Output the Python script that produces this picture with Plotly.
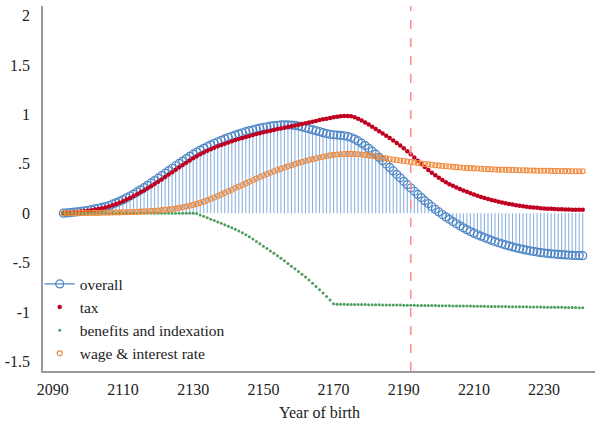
import plotly.graph_objects as go

years = list(range(2093, 2242))

overall = [
    0.000, 0.003, 0.006, 0.010, 0.014, 0.019, 0.024, 0.030, 0.036, 0.043, 0.050, 0.058,
    0.067, 0.078, 0.091, 0.105, 0.120, 0.137, 0.155, 0.174, 0.194, 0.215,
    0.237, 0.259, 0.282, 0.306, 0.330, 0.355, 0.380, 0.405, 0.430, 0.455,
    0.480, 0.504, 0.528, 0.552, 0.575, 0.597, 0.618, 0.638, 0.657, 0.675,
    0.692, 0.708, 0.723, 0.738, 0.752, 0.766, 0.779, 0.791, 0.803, 0.814,
    0.825, 0.835, 0.844, 0.853, 0.861, 0.868, 0.875, 0.881, 0.886, 0.890,
    0.893, 0.894, 0.894, 0.892, 0.888, 0.882, 0.874, 0.865, 0.855, 0.845,
    0.835, 0.825, 0.815, 0.806, 0.799, 0.794, 0.791, 0.788, 0.784, 0.777,
    0.766, 0.750, 0.731, 0.709, 0.684, 0.657, 0.628, 0.597, 0.565, 0.532,
    0.498, 0.463, 0.428, 0.393, 0.358, 0.323, 0.289, 0.255, 0.222, 0.190,
    0.158, 0.127, 0.097, 0.068, 0.040, 0.013, -0.013, -0.038, -0.062, -0.085,
    -0.107, -0.128, -0.148, -0.167, -0.185, -0.202, -0.218, -0.233, -0.247, -0.261,
    -0.274, -0.287, -0.299, -0.310, -0.321, -0.331, -0.341, -0.350, -0.359, -0.367,
    -0.374, -0.381, -0.387, -0.393, -0.398, -0.403, -0.407, -0.411, -0.414, -0.417,
    -0.420, -0.422, -0.424, -0.426, -0.428, -0.429, -0.430,
]

tax = [
    0.000, 0.002, 0.005, 0.008, 0.012, 0.016, 0.021, 0.026, 0.031, 0.037, 0.043, 0.050,
    0.057, 0.068, 0.080, 0.093, 0.107, 0.122, 0.138, 0.155, 0.173, 0.192,
    0.211, 0.231, 0.252, 0.273, 0.295, 0.318, 0.342, 0.366, 0.391, 0.415,
    0.440, 0.464, 0.488, 0.511, 0.534, 0.556, 0.577, 0.597, 0.615, 0.632,
    0.648, 0.663, 0.677, 0.690, 0.703, 0.716, 0.728, 0.740, 0.751, 0.762,
    0.772, 0.782, 0.792, 0.801, 0.810, 0.819, 0.827, 0.835, 0.843, 0.851,
    0.858, 0.866, 0.873, 0.880, 0.888, 0.896, 0.903, 0.911, 0.918, 0.926,
    0.934, 0.942, 0.950, 0.957, 0.964, 0.970, 0.976, 0.981, 0.984, 0.984,
    0.980, 0.970, 0.955, 0.937, 0.918, 0.898, 0.876, 0.853, 0.830, 0.807,
    0.784, 0.760, 0.736, 0.711, 0.686, 0.658, 0.628, 0.596, 0.563, 0.530,
    0.497, 0.467, 0.438, 0.410, 0.384, 0.359, 0.336, 0.314, 0.294, 0.277,
    0.261, 0.245, 0.230, 0.216, 0.202, 0.189, 0.177, 0.165, 0.154, 0.144,
    0.134, 0.125, 0.116, 0.108, 0.100, 0.093, 0.087, 0.081, 0.075, 0.070,
    0.065, 0.061, 0.057, 0.054, 0.051, 0.048, 0.046, 0.044, 0.042, 0.040,
    0.039, 0.038, 0.037, 0.036, 0.035, 0.035, 0.034,
]

benefits = [
    0.0, 0.0, 0.0, 0.0, 0.0, 0.0, 0.0, 0.0, 0.0, 0.0, 0.0, 0.0,
    0.0, 0.0, 0.0, 0.0, 0.0, 0.0, 0.0, 0.0, 0.0, 0.0,
    0.0, 0.0, 0.0, 0.0, 0.0, 0.0, 0.0, 0.0, 0.0, 0.0,
    0.0, 0.0, 0.0, 0.0, 0.0, 0.0, -0.004, -0.018, -0.032, -0.046,
    -0.060, -0.074, -0.088, -0.102, -0.116, -0.131, -0.146, -0.162, -0.179, -0.197,
    -0.217, -0.239, -0.262, -0.286, -0.310, -0.334, -0.358, -0.382, -0.406, -0.430,
    -0.456, -0.482, -0.509, -0.536, -0.563, -0.590, -0.617, -0.645, -0.676, -0.708,
    -0.741, -0.774, -0.808, -0.843, -0.879, -0.916, -0.921, -0.922, -0.922, -0.923,
    -0.923, -0.924, -0.924, -0.925, -0.925, -0.926, -0.926, -0.927, -0.927, -0.928,
    -0.928, -0.929, -0.929, -0.930, -0.930, -0.931, -0.931, -0.932, -0.932, -0.933,
    -0.933, -0.934, -0.934, -0.935, -0.935, -0.936, -0.936, -0.937, -0.937, -0.938,
    -0.938, -0.939, -0.939, -0.940, -0.940, -0.941, -0.941, -0.942, -0.942, -0.943,
    -0.943, -0.944, -0.944, -0.945, -0.945, -0.946, -0.946, -0.947, -0.947, -0.948,
    -0.948, -0.949, -0.949, -0.950, -0.950, -0.951, -0.951, -0.952, -0.952, -0.953,
    -0.953, -0.954, -0.954, -0.955, -0.955, -0.956, -0.956,
]

wage = [
    0.000, 0.000, 0.000, 0.000, 0.001, 0.001, 0.001, 0.002, 0.002, 0.003, 0.003, 0.004,
    0.004, 0.005, 0.006, 0.007, 0.008, 0.009, 0.010, 0.011, 0.012, 0.014,
    0.016, 0.018, 0.020, 0.022, 0.025, 0.028, 0.031, 0.035, 0.039, 0.043,
    0.048, 0.054, 0.060, 0.067, 0.075, 0.084, 0.094, 0.105, 0.117, 0.130,
    0.144, 0.159, 0.174, 0.190, 0.206, 0.222, 0.238, 0.254, 0.270, 0.286,
    0.302, 0.318, 0.334, 0.350, 0.366, 0.381, 0.396, 0.410, 0.424, 0.437,
    0.450, 0.462, 0.474, 0.486, 0.497, 0.508, 0.518, 0.528, 0.538, 0.547,
    0.556, 0.564, 0.572, 0.579, 0.585, 0.590, 0.594, 0.597, 0.599, 0.600,
    0.600, 0.599, 0.597, 0.594, 0.590, 0.585, 0.579, 0.573, 0.567, 0.561,
    0.555, 0.549, 0.543, 0.538, 0.533, 0.528, 0.523, 0.518, 0.513, 0.508,
    0.503, 0.498, 0.494, 0.490, 0.486, 0.482, 0.478, 0.475, 0.472, 0.469,
    0.466, 0.463, 0.460, 0.458, 0.456, 0.454, 0.452, 0.450, 0.448, 0.446,
    0.444, 0.442, 0.441, 0.440, 0.439, 0.438, 0.437, 0.436, 0.435, 0.434,
    0.433, 0.432, 0.431, 0.430, 0.430, 0.429, 0.429, 0.428, 0.428, 0.427,
    0.427, 0.426, 0.426, 0.425, 0.425, 0.425, 0.425,
]

x_ticks = [2090, 2110, 2130, 2150, 2170, 2190, 2210, 2230]
y_ticks = [-1.5, -1, -0.5, 0, 0.5, 1, 1.5, 2]
y_tick_labels = ["-1.5", "-1", "-.5", "0", ".5", "1", "1.5", "2"]
x_title = "Year of birth"
marker_year = 2192

FONT = "'Liberation Serif', 'DejaVu Serif', serif"
BLUE = "#4f86c6"
STEM = "#8db2e2"
RED = "#c00020"
GREEN = "#4e9e5e"
ORANGE = "#f08a3c"
TXT = "#222222"

up = [max(-v, 0) for v in overall]
down = [max(v, 0) for v in overall]

fig = go.Figure()

fig.add_trace(go.Scatter(
    x=years, y=overall, mode="markers", showlegend=False,
    marker=dict(symbol="circle-open", size=8, color=BLUE, line=dict(width=1.2)),
    error_y=dict(type="data", symmetric=False, array=up, arrayminus=down,
                 width=0, thickness=1.1, color=STEM),
))
fig.add_trace(go.Scatter(
    x=[None], y=[None], mode="lines+markers", name="overall",
    line=dict(color=BLUE, width=1.2),
    marker=dict(symbol="circle-open", size=8, color=BLUE, line=dict(width=1.2)),
))
fig.add_trace(go.Scatter(
    x=years, y=tax, mode="markers", name="tax",
    marker=dict(symbol="circle", size=4.5, color=RED),
))
fig.add_trace(go.Scatter(
    x=years, y=benefits, mode="markers", name="benefits and indexation",
    marker=dict(symbol="circle", size=3, color=GREEN),
))
fig.add_trace(go.Scatter(
    x=years, y=wage, mode="markers", name="wage & interest rate",
    marker=dict(symbol="circle-open", size=5, color=ORANGE, line=dict(width=1.1)),
))

fig.add_shape(type="line", xref="x", yref="paper", x0=marker_year, x1=marker_year,
              y0=0, y1=1, line=dict(color="#ff8a8a", width=1.5, dash="dash"))

fig.add_annotation(text=x_title, xref="paper", yref="paper", x=0.5, y=-0.084,
                   xanchor="center", yanchor="top", showarrow=False,
                   font=dict(family=FONT, size=16, color=TXT))

fig.update_layout(
    width=595, height=422,
    margin=dict(l=43, r=0, t=6, b=51, autoexpand=False),
    paper_bgcolor="white", plot_bgcolor="white",
    font=dict(family=FONT, size=16, color=TXT),
    showlegend=True,
    legend=dict(x=-0.006, y=0.284, xanchor="left", yanchor="top",
                bgcolor="rgba(0,0,0,0)", font=dict(family=FONT, size=15.5, color=TXT),
                itemwidth=30, tracegroupgap=0),
    xaxis=dict(range=[2087.2, 2244.5], tickmode="array", tickvals=x_ticks,
               showgrid=False, zeroline=False, showline=True, linecolor="#9a9a9a",
               linewidth=1.5, ticks="", ticklabelstandoff=3, automargin=False,
               tickfont=dict(family=FONT, size=16, color=TXT)),
    yaxis=dict(range=[-1.597, 2.097], tickmode="array", tickvals=y_ticks,
               ticktext=y_tick_labels, showgrid=False, zeroline=False,
               showline=True, linecolor="#9a9a9a", linewidth=1.5, ticks="",
               ticklabelstandoff=8, automargin=False,
               tickfont=dict(family=FONT, size=16, color=TXT)),
)

fig.write_html("out.html", config={"displayModeBar": False},
               post_script="document.body.style.margin='0';document.body.style.padding='0';")
